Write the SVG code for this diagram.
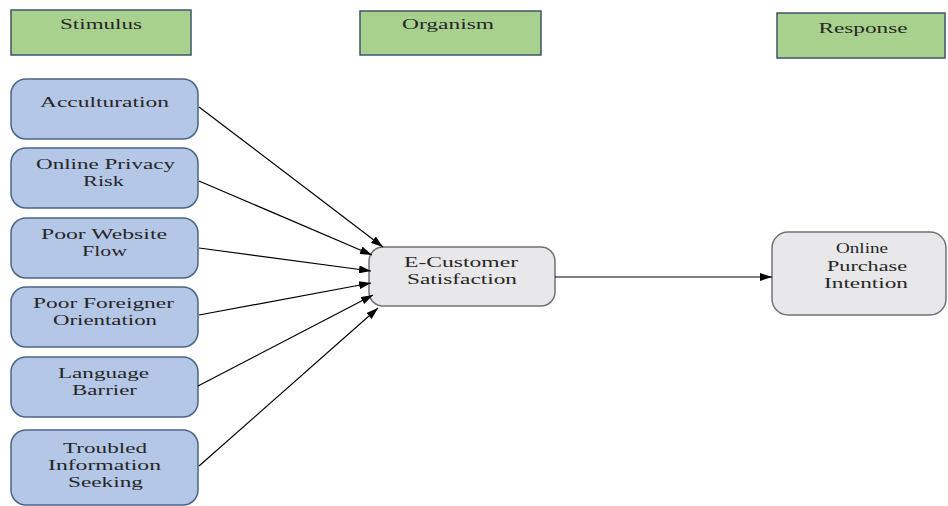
<svg xmlns="http://www.w3.org/2000/svg" width="948" height="506" viewBox="0 0 948 506">
<defs>
<marker id="ah" viewBox="0 0 12 8" refX="12" refY="4" markerWidth="12" markerHeight="8" markerUnits="userSpaceOnUse" orient="auto">
<path d="M0,0 L12,4 L0,8 z" fill="#000"/>
</marker>
<style>
.hdr{fill:#a9d18e;stroke:#3e5468;stroke-width:1.5}
.stim{fill:#b4c7e7;stroke:#4a6584;stroke-width:1.5}
.org{fill:#e8e7e9;stroke:#6f7378;stroke-width:1.5}
.t{font-family:'Liberation Serif','DejaVu Serif',serif;font-size:15px;fill:#262626;text-anchor:middle}
.con line{stroke:#000;stroke-width:1.2;marker-end:url(#ah)}
</style>
</defs>
<rect width="948" height="506" fill="#fff"/>
<g id="stimulus-header"><rect class="hdr" x="11" y="10" width="180" height="45"/><text class="t" x="101" y="29" textLength="82" lengthAdjust="spacingAndGlyphs">Stimulus</text></g>
<g id="organism-header"><rect class="hdr" x="360" y="11" width="181" height="44"/><text class="t" x="448" y="29" textLength="92" lengthAdjust="spacingAndGlyphs">Organism</text></g>
<g id="response-header"><rect class="hdr" x="777" y="13" width="168" height="45"/><text class="t" x="863" y="33" textLength="89" lengthAdjust="spacingAndGlyphs">Response</text></g>
<g id="acculturation"><rect class="stim" x="11" y="79" width="187" height="60" rx="15"/><text class="t" x="104.5" y="107" textLength="129" lengthAdjust="spacingAndGlyphs">Acculturation</text></g>
<g id="privacy"><rect class="stim" x="11" y="148" width="187" height="60" rx="15"/><text class="t" x="105.5" y="169" textLength="139" lengthAdjust="spacingAndGlyphs">Online Privacy</text><text class="t" x="103.5" y="186" textLength="41" lengthAdjust="spacingAndGlyphs">Risk</text></g>
<g id="website"><rect class="stim" x="11" y="218" width="187" height="60" rx="15"/><text class="t" x="104" y="239" textLength="126" lengthAdjust="spacingAndGlyphs">Poor Website</text><text class="t" x="104.5" y="256" textLength="45" lengthAdjust="spacingAndGlyphs">Flow</text></g>
<g id="foreigner"><rect class="stim" x="11" y="287" width="187" height="60" rx="15"/><text class="t" x="103.5" y="308" textLength="141" lengthAdjust="spacingAndGlyphs">Poor Foreigner</text><text class="t" x="105" y="325" textLength="104" lengthAdjust="spacingAndGlyphs">Orientation</text></g>
<g id="language"><rect class="stim" x="11" y="357" width="187" height="60" rx="15"/><text class="t" x="103.5" y="378" textLength="91" lengthAdjust="spacingAndGlyphs">Language</text><text class="t" x="104.5" y="395" textLength="65" lengthAdjust="spacingAndGlyphs">Barrier</text></g>
<g id="troubled"><rect class="stim" x="11" y="430" width="187" height="75" rx="15"/><text class="t" x="105" y="453" textLength="84" lengthAdjust="spacingAndGlyphs">Troubled</text><text class="t" x="104.5" y="470" textLength="113" lengthAdjust="spacingAndGlyphs">Information</text><text class="t" x="105.5" y="487" textLength="75" lengthAdjust="spacingAndGlyphs">Seeking</text></g>
<g id="satisfaction"><rect class="org" x="369" y="247" width="186" height="59" rx="14"/><text class="t" x="461" y="267" textLength="114" lengthAdjust="spacingAndGlyphs">E-Customer</text><text class="t" x="462" y="284" textLength="110" lengthAdjust="spacingAndGlyphs">Satisfaction</text></g>
<g id="intention"><rect class="org" x="772" y="232" width="174" height="83" rx="16"/><text class="t" x="862" y="253" textLength="52" lengthAdjust="spacingAndGlyphs">Online</text><text class="t" x="867" y="271" textLength="80" lengthAdjust="spacingAndGlyphs">Purchase</text><text class="t" x="866" y="288" textLength="84" lengthAdjust="spacingAndGlyphs">Intention</text></g>
<g class="con" id="connectors">
<line x1="199" y1="107" x2="383" y2="247"/>
<line x1="199" y1="181" x2="372" y2="255"/>
<line x1="199" y1="248" x2="371" y2="271"/>
<line x1="199" y1="315" x2="371" y2="283"/>
<line x1="198" y1="386" x2="373" y2="295"/>
<line x1="199" y1="466" x2="378" y2="308"/>
<line x1="555" y1="277" x2="772" y2="277"/>
</g>
</svg>
